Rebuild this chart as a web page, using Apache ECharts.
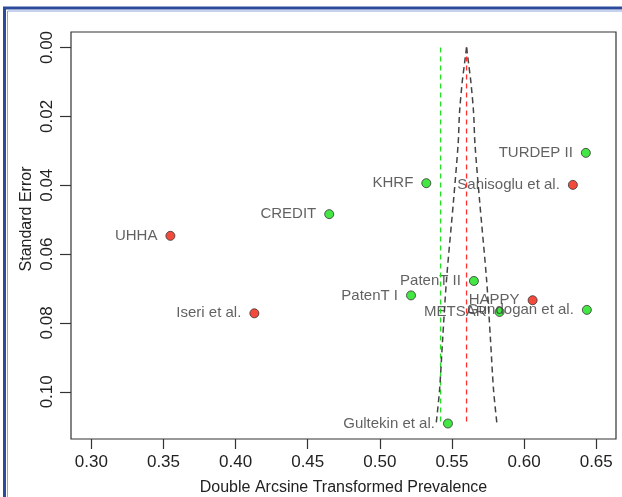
<!DOCTYPE html>
<html>
<head>
<meta charset="utf-8">
<script src="https://cdn.jsdelivr.net/npm/echarts@6/dist/echarts.min.js"></script>
<style>
  html, body { margin: 0; padding: 0; background: #fff; }
  #chart { width: 622px; height: 497px; }
</style>
</head>
<body>
<div id="chart"></div>
<script>
// studies in the funnel plot
const studies = ['UHHA', 'CREDIT', 'KHRF', 'Sanisoglu et al.', 'TURDEP II', 'Iseri et al.',
  'PatenT II', 'PatenT I', 'HAPPY', 'METSAR', 'Gundogan et al.', 'Gultekin et al.'];
const prevalence = [0.3548, 0.4649, 0.5322, 0.6338, 0.6428, 0.4130,
  0.5652, 0.5216, 0.6059, 0.5830, 0.6435, 0.5472];
const stdError = [0.0547, 0.0484, 0.0394, 0.0399, 0.0306, 0.0772,
  0.0678, 0.0720, 0.0734, 0.0768, 0.0762, 0.1092];
// 1 = red marker, 0 = green marker
const outlier = [1, 0, 0, 1, 0, 1, 0, 0, 1, 0, 0, 0];

// reference lines
const pooledEstimate = 0.5601;
const adjustedEstimate = 0.5421;
const refLineSeMax = 0.109;

// funnel contour (standard error, half width)
const funnelSe = [0, 0.0046, 0.0104, 0.0191, 0.0278, 0.0443, 0.0675, 0.0849, 0.0994, 0.109];
const funnelHalf = [0, 0.0014, 0.0031, 0.0049, 0.0058, 0.0090, 0.0139, 0.0166, 0.0187, 0.0210];

const xTicks = [0.30, 0.35, 0.40, 0.45, 0.50, 0.55, 0.60, 0.65];
const yTicks = [0.00, 0.02, 0.04, 0.06, 0.08, 0.10];

const chart = echarts.init(document.getElementById('chart'));

const pointData = studies.map((name, i) => ({
  name: name,
  value: [prevalence[i], stdError[i]],
  itemStyle: { color: outlier[i] ? '#f01e0a' : '#14e014' },
}));

const dashed = (color, width, dash) => ({ color: color, width: width, type: dash });

const options = {
  animation: false,
  textStyle: { fontFamily: 'Liberation Sans, Arial, sans-serif' },
  grid: {
    left: 71,
    top: 32,
    right: 6,
    bottom: 58,
    containLabel: false,
    outerBoundsMode: 'none',
    show: true,
    borderColor: '#333',
    borderWidth: 1.2,
  },
  xAxis: {
    type: 'value',
    position: 'bottom',
    min: 0.2859,
    max: 0.6637,
    name: 'Double Arcsine Transformed Prevalence',
    nameLocation: 'middle',
    nameGap: 41,
    nameTextStyle: { color: '#222', fontSize: 16 },
    axisLine: { show: false, onZero: false },
    splitLine: { show: false },
    axisTick: { show: true, length: 10, lineStyle: { color: '#333', width: 1.2 }, customValues: xTicks },
    axisLabel: {
      customValues: xTicks,
      color: '#222',
      fontSize: 17,
      margin: 15,
      formatter: (v) => v.toFixed(2),
    },
  },
  yAxis: {
    type: 'value',
    inverse: true,
    min: -0.0045,
    max: 0.1137,
    axisLine: { show: false, onZero: false },
    splitLine: { show: false },
    axisTick: { show: true, length: 11, lineStyle: { color: '#333', width: 1.2 }, customValues: yTicks },
    axisLabel: {
      customValues: yTicks,
      color: '#222',
      fontSize: 17,
      rotate: 90,
      margin: 15,
      formatter: (v) => v.toFixed(2),
    },
  },
  graphic: [
    {
      type: 'rect',
      shape: { x: 4.5, y: 8, width: 700, height: 600 },
      style: { fill: 'none', stroke: '#2c4a9c', lineWidth: 3 },
      silent: true,
    },
    {
      type: 'rect',
      shape: { x: 7.5, y: 11, width: 700, height: 600 },
      style: { fill: 'none', stroke: '#8ea6dc', lineWidth: 1 },
      silent: true,
    },
    {
      type: 'text',
      x: 27,
      y: 219,
      rotation: Math.PI / 2,
      style: {
        text: 'Standard Error',
        fill: '#222',
        fontSize: 16,
        fontFamily: 'Liberation Sans, Arial, sans-serif',
        align: 'center',
        verticalAlign: 'middle',
      },
      silent: true,
    },
  ],
  series: [
    {
      type: 'scatter',
      symbolSize: 9,
      z: 3,
      itemStyle: { borderColor: '#333', borderWidth: 1 },
      label: {
        show: true,
        position: 'left',
        distance: 8,
        formatter: '{b}',
        color: '#3a3a3a',
        fontSize: 15,
      },
      data: pointData,
    },
    {
      type: 'line',
      symbol: 'none',
      z: 4,
      lineStyle: dashed('#22e022', 1.3, [5, 4]),
      data: [[adjustedEstimate, 0], [adjustedEstimate, refLineSeMax]],
    },
    {
      type: 'line',
      symbol: 'none',
      z: 4,
      lineStyle: dashed('#ff3030', 1.3, [5, 4]),
      data: [[pooledEstimate, 0], [pooledEstimate, refLineSeMax]],
    },
    {
      type: 'line',
      symbol: 'none',
      smooth: 0.3,
      z: 5,
      lineStyle: dashed('#444', 1.5, [6, 4]),
      data: funnelSe.map((s, i) => [pooledEstimate - funnelHalf[i], s]),
    },
    {
      type: 'line',
      symbol: 'none',
      smooth: 0.3,
      z: 5,
      lineStyle: dashed('#444', 1.5, [6, 4]),
      data: funnelSe.map((s, i) => [pooledEstimate + funnelHalf[i], s]),
    },
  ],
};

chart.setOption(options);
</script>
</body>
</html>
